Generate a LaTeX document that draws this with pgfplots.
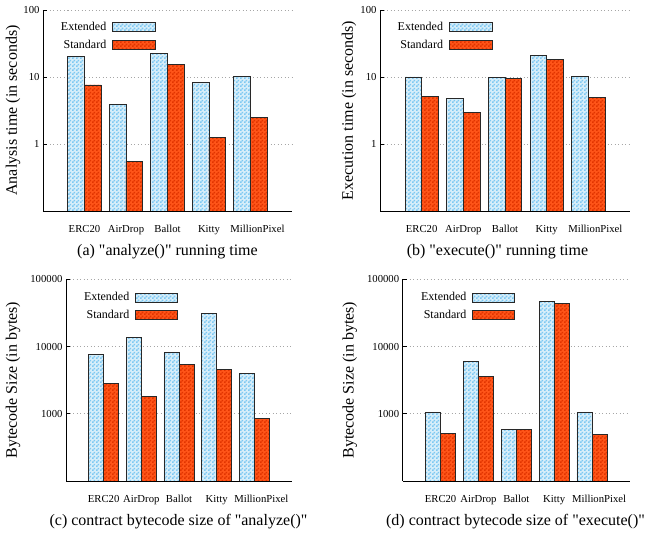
\documentclass[border=0pt]{standalone}
\usepackage{fontspec}
\setmainfont{Liberation Serif}
\usepackage{pgfplots}
\pgfplotsset{compat=1.18}
\usetikzlibrary{patterns}

\pgfdeclarepatternformonly{checker}{\pgfpointorigin}{\pgfqpoint{4pt}{4pt}}{\pgfqpoint{4pt}{4pt}}{%
 \pgfpathrectangle{\pgfpointorigin}{\pgfqpoint{2pt}{2pt}}%
 \pgfpathrectangle{\pgfqpoint{2pt}{2pt}}{\pgfqpoint{2pt}{2pt}}%
 \pgfusepath{fill}}

\definecolor{extblue}{RGB}{125,200,242}
\definecolor{extlight}{RGB}{215,238,250}
\definecolor{stdred}{RGB}{255,85,25}
\definecolor{stddark}{RGB}{225,52,0}
\definecolor{barline}{RGB}{40,40,40}

\pgfplotsset{
  every axis/.append style={
  scale only axis, log origin=infty,
  xmin=0, xmax=6, xtick={1,2,3,4,5},
  xticklabels={ERC20,AirDrop,Ballot,Kitty,\hspace*{14pt}MillionPixel},
  axis x line*=bottom, axis y line*=left,
  xtick style={draw=none},
  tick align=inside, major tick length=4pt, yminorticks=false,
  ytick style={black, line width=0.6pt},
  axis line style={line width=0.8pt},
  ymajorgrids, grid style={gray!70, dash pattern=on 1pt off 2.5pt, line width=0.6pt},
  tick label style={font=\fontsize{10.7}{12}\selectfont},
  xticklabel style={yshift=-7pt},
  /pgf/number format/assume math mode=true,
  label style={font=\fontsize{16}{18}\selectfont},
  bar width=0.4,
  legend style={draw=none, fill=none, inner sep=0pt, row sep=4pt, column sep=4pt,
    font=\fontsize{12}{14}\selectfont, anchor=north east},
  legend cell align=right,
  legend plot pos=right,
 },
}
\tikzset{
 extstyle/.style={draw=barline, line width=0.8pt, fill=extlight, postaction={pattern=checker, pattern color=extblue}},
 stdstyle/.style={draw=barline, line width=0.8pt, fill=stdred, postaction={pattern=checker, pattern color=stddark}},
}
\newcommand{\q}{\textquotedbl}

\begin{document}
\begin{tikzpicture}
\useasboundingbox (0,0) rectangle (645pt,535pt);

% (a)
\begin{axis}[ymode=log, ybar, at={(43pt,324pt)}, anchor=south west, width=249pt, height=201pt,
  ymin=0.1, ymax=100, ytick={1,10,100}, yticklabels={1,10,100},
  ylabel={Analysis time (in seconds)},
  ylabel style={at={(axis description cs:-0.1205,0.5)}, anchor=center},
  legend style={at={(0.455,0.95)}},
  legend image code/.code={\draw[#1] (0pt,-4.5pt) rectangle (43pt,4.5pt);}]
\addplot[extstyle, bar shift=-0.2] coordinates {(1,20) (2,3.9) (3,22.6) (4,8.2) (5,10.1)};
\addplot[stdstyle, bar shift=0.2] coordinates {(1,7.6) (2,0.545) (3,15.5) (4,1.26) (5,2.5)};
\legend{Extended,Standard}
\end{axis}
\node[font=\fontsize{16}{18}\selectfont] at (167.5pt,283pt) {(a) \q analyze()\q{} running time};

% (b)
\begin{axis}[ymode=log, ybar, at={(380pt,324pt)}, anchor=south west, width=250pt, height=201pt,
  ymin=0.1, ymax=100, ytick={1,10,100}, yticklabels={1,10,100},
  ylabel={Execution time (in seconds)},
  ylabel style={at={(axis description cs:-0.124,0.5)}, anchor=center},
  legend style={at={(0.452,0.95)}},
  legend image code/.code={\draw[#1] (0pt,-4.5pt) rectangle (43pt,4.5pt);}]
\addplot[extstyle, bar shift=-0.2] coordinates {(1,10) (2,4.8) (3,9.9) (4,20.8) (5,10.1)};
\addplot[stdstyle, bar shift=0.2] coordinates {(1,5.15) (2,2.93) (3,9.45) (4,18.4) (5,4.98)};
\legend{Extended,Standard}
\end{axis}
\node[font=\fontsize{16}{18}\selectfont] at (497.5pt,283pt) {(b) \q execute()\q{} running time};

% (c)
\begin{axis}[ymode=log, ybar, at={(66pt,54pt)}, anchor=south west, width=226pt, height=201.7pt,
  ymin=100, ymax=100000, ytick={1000,10000,100000}, yticklabels={1000,10000,100000},
  ylabel={Bytecode Size (in bytes)},
  ylabel style={at={(axis description cs:-0.2345,0.5)}, anchor=center},
  legend style={at={(0.497,0.945)}},
  legend image code/.code={\draw[#1] (0pt,-4.5pt) rectangle (42pt,4.5pt);}]
\addplot[extstyle, bar shift=-0.2] coordinates {(1,7700) (2,13600) (3,8050) (4,31300) (5,3970)};
\addplot[stdstyle, bar shift=0.2] coordinates {(1,2860) (2,1810) (3,5350) (4,4610) (5,863)};
\legend{Extended,Standard}
\end{axis}
\node[font=\fontsize{16}{18}\selectfont] at (178.5pt,13pt) {(c) contract bytecode size of \q analyze()\q};

% (d)
\begin{axis}[ymode=log, ybar, at={(402.7pt,54pt)}, anchor=south west, width=227.3pt, height=201.7pt,
  ymin=100, ymax=100000, ytick={1000,10000,100000}, yticklabels={1000,10000,100000},
  ylabel={Bytecode Size (in bytes)},
  ylabel style={at={(axis description cs:-0.233,0.5)}, anchor=center},
  legend style={at={(0.496,0.945)}},
  legend image code/.code={\draw[#1] (0pt,-4.5pt) rectangle (42pt,4.5pt);}]
\addplot[extstyle, bar shift=-0.2] coordinates {(1,1045) (2,5990) (3,593) (4,46800) (5,1040)};
\addplot[stdstyle, bar shift=0.2] coordinates {(1,505) (2,3580) (3,593) (4,44100) (5,488)};
\legend{Extended,Standard}
\end{axis}
\node[font=\fontsize{16}{18}\selectfont] at (515.5pt,13pt) {(d) contract bytecode size of \q execute()\q};
\end{tikzpicture}
\end{document}
